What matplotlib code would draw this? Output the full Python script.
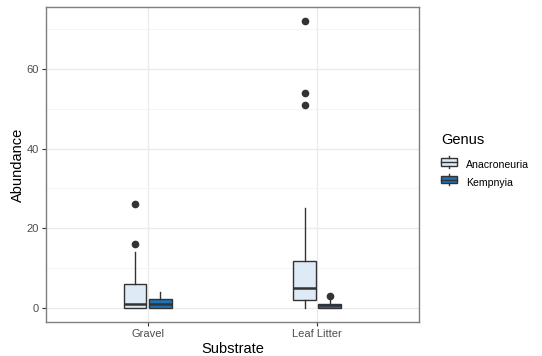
import matplotlib
matplotlib.use("Agg")
import matplotlib.pyplot as plt
from matplotlib.legend_handler import HandlerBase
from matplotlib.patches import Rectangle, Patch
from matplotlib.lines import Line2D

plt.rcParams['font.family'] = ['Liberation Sans', 'DejaVu Sans']

substrates = ["Gravel", "Leaf Litter"]
genera = ["Anacroneuria", "Kempnyia"]
colors = ["#DEEBF7", "#2171B5"]

# box stats: [Gravel, Leaf Litter]
anac_q1 = [0, 2]
anac_med = [1, 5]
anac_q3 = [6, 11.7]
anac_lo = [0, 0]
anac_hi = [14, 25]
anac_out = [[16, 26], [51, 54, 72]]

kemp_q1 = [0, 0]
kemp_med = [1, 0.6]
kemp_q3 = [2.2, 1]
kemp_lo = [0, 0]
kemp_hi = [4, 2]
kemp_out = [[], [3]]

series = [
    (anac_q1, anac_med, anac_q3, anac_lo, anac_hi, anac_out),
    (kemp_q1, kemp_med, kemp_q3, kemp_lo, kemp_hi, kemp_out),
]

fig = plt.figure(figsize=(5.42, 3.56), dpi=100)
ax = fig.add_axes([0.0849, 0.0955, 0.688, 0.885])

edge = "#333333"
offsets = [-0.075, 0.075]
for g, (q1, med, q3, lo, hi, out) in enumerate(series):
    stats = []
    for i in range(len(substrates)):
        stats.append(dict(q1=q1[i], med=med[i], q3=q3[i], whislo=lo[i],
                          whishi=hi[i], fliers=out[i]))
    pos = [i + 1 + offsets[g] for i in range(len(substrates))]
    ax.bxp(stats, positions=pos, widths=0.135, patch_artist=True,
           showcaps=False, manage_ticks=False,
           boxprops=dict(facecolor=colors[g], edgecolor=edge, linewidth=1.0),
           medianprops=dict(color=edge, linewidth=1.8),
           whiskerprops=dict(color=edge, linewidth=1.0),
           flierprops=dict(marker="o", markerfacecolor=edge, markeredgecolor=edge,
                           markersize=4.5))

ax.set_xlim(0.4, 2.6)
ax.set_ylim(-3.6, 75.6)
ax.set_xticks([1, 2])
ax.set_xticklabels(substrates)
ax.set_yticks([0, 20, 40, 60])
ax.set_yticks([10, 30, 50, 70], minor=True)
ax.grid(True, which="major", color="#EBEBEB", linewidth=1.0)
ax.grid(True, which="minor", axis="y", color="#F3F3F3", linewidth=0.6)
ax.set_axisbelow(True)
ax.tick_params(which="major", colors="#333333", labelcolor="#4D4D4D", labelsize=8,
               length=3, width=0.8, pad=2)
ax.tick_params(which="minor", length=0)
for s in ax.spines.values():
    s.set_color("#7F7F7F")
    s.set_linewidth(1.0)
ax.set_xlabel("Substrate", fontsize=10.5, labelpad=2)
ax.set_ylabel("Abundance", fontsize=10.5, labelpad=1)


class BoxHandler(HandlerBase):
    def create_artists(self, legend, orig, xd, yd, width, height, fontsize, trans):
        w = width
        h = height
        rect = Rectangle((xd, yd + 0.15 * h), w, 0.7 * h,
                         facecolor=orig.get_facecolor(), edgecolor=edge, lw=1.0,
                         transform=trans)
        mid = Line2D([xd, xd + w], [yd + 0.5 * h] * 2,
                     color=edge, lw=1.0, transform=trans)
        top = Line2D([xd + 0.5 * w] * 2, [yd + 0.85 * h, yd + 1.05 * h],
                     color=edge, lw=1.0, transform=trans)
        bot = Line2D([xd + 0.5 * w] * 2, [yd - 0.05 * h, yd + 0.15 * h],
                     color=edge, lw=1.0, transform=trans)
        return [rect, mid, top, bot]


fig.text(441 / 542, 1 - 140 / 356, "Genus", fontsize=10.5, ha="left", va="center")
handles = [Patch(facecolor=c) for c in colors]
leg = fig.legend(handles, genera, loc="upper left",
                 bbox_to_anchor=(0.8137, 0.551), frameon=False, fontsize=7.6,
                 handler_map={Patch: BoxHandler()},
                 handlelength=1.5, handleheight=1.1, handletextpad=0.85,
                 labelspacing=0.68, borderpad=0, borderaxespad=0)

fig.savefig("out.png", dpi=100)
